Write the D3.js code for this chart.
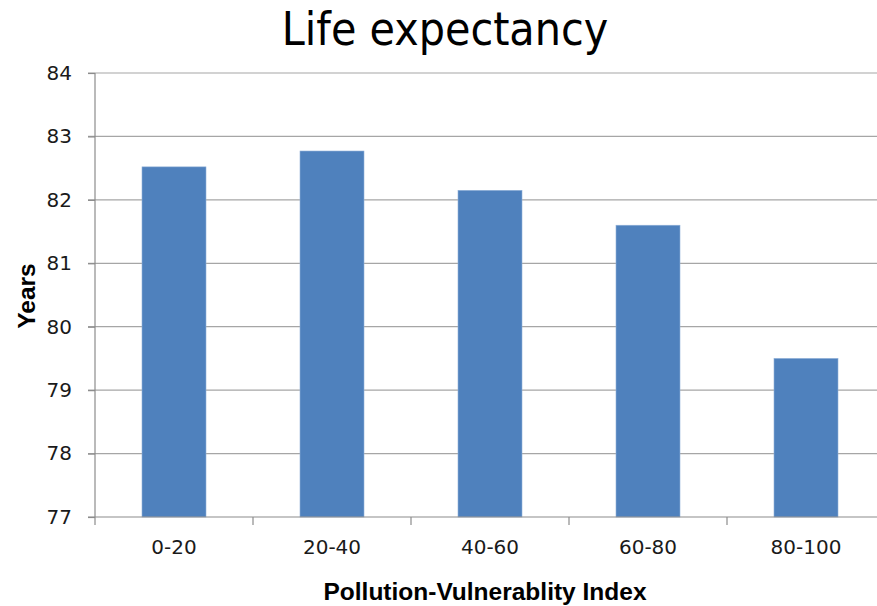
<!DOCTYPE html>
<html>
<head>
<meta charset="utf-8">
<script src="https://cdn.jsdelivr.net/npm/d3@7"></script>
<style>
  body { margin: 0; background: #fff; }
  svg { display: block; }
  .tick text { font-family: "DejaVu Sans", sans-serif; font-size: 20px; fill: #1a1a1a; }
</style>
</head>
<body>
<svg id="chart" width="877" height="606"></svg>
<script>
// Data
const categories = ["0-20", "20-40", "40-60", "60-80", "80-100"];
const lifeExpectancy = [82.52, 82.77, 82.15, 81.6, 79.5];
const yTicks = [77, 78, 79, 80, 81, 82, 83, 84];

const width = 877;
const height = 606;

// plot area (right edge runs past the picture, like the original)
const plotLeft = 95, plotRight = 885, plotTop = 73, plotBottom = 517;

const svg = d3.select("#chart");

const x = d3.scaleBand()
  .domain(categories)
  .range([plotLeft, plotRight])
  .paddingInner(0.595)
  .paddingOuter(0.2975);

const y = d3.scaleLinear()
  .domain([77, 84])
  .range([plotBottom, plotTop]);

// gridlines
svg.append("g")
  .selectAll("line")
  .data(yTicks.slice(1))
  .join("line")
  .attr("x1", plotLeft - 7)
  .attr("x2", width)
  .attr("y1", d => y(d))
  .attr("y2", d => y(d))
  .attr("stroke", "#a6a6a6")
  .attr("stroke-width", 1.2);

// bars
svg.append("g")
  .selectAll("rect")
  .data(categories)
  .join("rect")
  .attr("x", d => x(d))
  .attr("width", x.bandwidth())
  .attr("y", (d, i) => y(lifeExpectancy[i]))
  .attr("height", (d, i) => y(77) - y(lifeExpectancy[i]))
  .attr("fill", "#4f81bd")
  .attr("stroke", "#8fb0d8")
  .attr("stroke-width", 0.6);

// y axis
const yAxis = svg.append("g")
  .attr("transform", `translate(${plotLeft},0)`)
  .call(d3.axisLeft(y).tickValues(yTicks).tickFormat(d3.format("d")).tickSize(7).tickPadding(16));
yAxis.select(".domain").attr("stroke", "#8c8c8c").attr("stroke-width", 1.2)
  .attr("d", `M0,${plotTop}V${plotBottom + 8}`);
yAxis.selectAll(".tick line").attr("stroke", "#8c8c8c").attr("stroke-width", 1.2);

// x axis: labels at band centers, ticks at category boundaries
const xAxis = svg.append("g")
  .attr("transform", `translate(0,${plotBottom})`)
  .call(d3.axisBottom(x).tickSize(0).tickPadding(23));
xAxis.select(".domain").attr("stroke", "#8c8c8c").attr("stroke-width", 1.2)
  .attr("d", `M${plotLeft - 7},0H${width}`);

const boundaries = categories.map((d, i) => plotLeft + i * x.step()).slice(1);
xAxis.selectAll(".bound")
  .data(boundaries)
  .join("line")
  .attr("class", "bound")
  .attr("x1", d => d).attr("x2", d => d)
  .attr("y1", 0).attr("y2", 8)
  .attr("stroke", "#8c8c8c")
  .attr("stroke-width", 1.2);

// title
svg.append("text")
  .attr("x", 445)
  .attr("y", 45)
  .attr("text-anchor", "middle")
  .style("font-family", "'DejaVu Sans Condensed', 'DejaVu Sans', sans-serif")
  .style("font-stretch", "condensed")
  .style("font-size", "46px")
  .text("Life expectancy");

// axis titles
svg.append("text")
  .attr("x", 485)
  .attr("y", 600)
  .attr("text-anchor", "middle")
  .style("font-family", "'Liberation Sans', Arial, sans-serif")
  .style("font-weight", "bold")
  .style("font-size", "24.5px")
  .text("Pollution-Vulnerablity Index");

svg.append("text")
  .attr("transform", "translate(35,296) rotate(-90)")
  .attr("text-anchor", "middle")
  .style("font-family", "'Liberation Sans', Arial, sans-serif")
  .style("font-weight", "bold")
  .style("font-size", "24.5px")
  .text("Years");
</script>
</body>
</html>
